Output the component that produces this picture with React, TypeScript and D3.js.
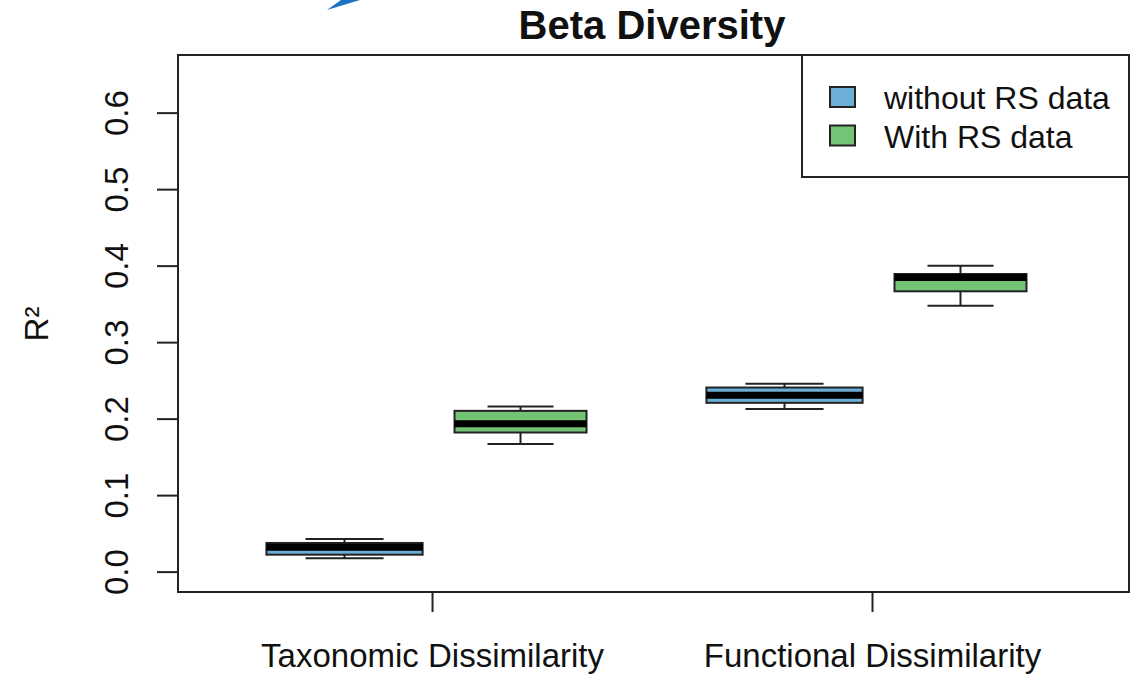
import React, { useEffect, useRef } from "react";
import * as d3 from "d3";

// boxplot stats, one entry per box:
// Taxonomic/without, Taxonomic/with, Functional/without, Functional/with
const groups = ["Taxonomic Dissimilarity", "Functional Dissimilarity"];
const seriesNames = ["without RS data", "With RS data"];
const seriesColors = ["#6baed6", "#74c476"];
const lowWhisker = [0.018, 0.1674, 0.2131, 0.3483];
const lowerQuartile = [0.0228, 0.1825, 0.2213, 0.3671];
const medians = [0.0326, 0.194, 0.2311, 0.3851];
const upperQuartile = [0.0381, 0.2108, 0.2413, 0.3897];
const highWhisker = [0.0433, 0.2164, 0.2461, 0.4005];
const yTicks = [0, 0.1, 0.2, 0.3, 0.4, 0.5, 0.6];

const W = 1140;
const H = 675;
const FONT = "'Liberation Sans', Arial, sans-serif";

const App = () => {
  const ref = useRef<SVGSVGElement | null>(null);

  useEffect(() => {
    drawChart();
  }, []);

  const drawChart = () => {
    const svg = d3.select(ref.current);
    svg.selectAll("*").remove();

    const left = 178, right = 1129, top = 55, bottom = 592;

    // R style: ylim c(0, 0.65) stretched by 4% each side
    const y = d3.scaleLinear().domain([-0.026, 0.676]).range([bottom, top]);
    const x = d3.scaleLinear().domain([0.243, 4.566]).range([left, right]);

    const groupCenter = (g: number) => 1.4 + 2 * g;
    const boxes = medians.map((m, i) => {
      const g = Math.floor(i / 2);
      const s = i % 2;
      return {
        s,
        pos: groupCenter(g) + (s === 0 ? -0.4 : 0.4),
        width: s === 0 ? 0.71 : 0.6,
        lo: lowWhisker[i],
        q1: lowerQuartile[i],
        med: m,
        q3: upperQuartile[i],
        hi: highWhisker[i],
      };
    });

    svg.append("rect").attr("width", W).attr("height", H).attr("fill", "#fff");

    // little blue arrow tip cut off at the top of the screenshot
    svg.append("path")
      .attr("d", "M327,10 L341,0 L360,0 Z")
      .attr("fill", "#1b73c3");

    const dark = "#222";

    const g = svg.append("g");

    boxes.forEach((b) => {
      const x0 = x(b.pos - b.width / 2);
      const x1 = x(b.pos + b.width / 2);
      const cx = x(b.pos);
      const half = (x1 - x0) / 4;

      // whiskers + staples
      g.append("line").attr("x1", cx).attr("x2", cx).attr("y1", y(b.hi)).attr("y2", y(b.q3))
        .attr("stroke", dark).attr("stroke-width", 2);
      g.append("line").attr("x1", cx).attr("x2", cx).attr("y1", y(b.q1)).attr("y2", y(b.lo))
        .attr("stroke", dark).attr("stroke-width", 2);
      g.append("line").attr("x1", cx - half).attr("x2", cx + half).attr("y1", y(b.hi)).attr("y2", y(b.hi))
        .attr("stroke", dark).attr("stroke-width", 2);
      g.append("line").attr("x1", cx - half).attr("x2", cx + half).attr("y1", y(b.lo)).attr("y2", y(b.lo))
        .attr("stroke", dark).attr("stroke-width", 2);

      g.append("rect")
        .attr("x", x0).attr("y", y(b.q3))
        .attr("width", x1 - x0).attr("height", y(b.q1) - y(b.q3))
        .attr("fill", seriesColors[b.s])
        .attr("stroke", dark).attr("stroke-width", 2);

      g.append("line").attr("x1", x0).attr("x2", x1).attr("y1", y(b.med)).attr("y2", y(b.med))
        .attr("stroke", "#000").attr("stroke-width", 7);
    });

    // frame
    svg.append("rect")
      .attr("x", left).attr("y", top)
      .attr("width", right - left).attr("height", bottom - top)
      .attr("fill", "none").attr("stroke", dark).attr("stroke-width", 2);

    // y axis
    yTicks.forEach((t) => {
      svg.append("line").attr("x1", left - 21).attr("x2", left).attr("y1", y(t)).attr("y2", y(t))
        .attr("stroke", dark).attr("stroke-width", 2);
      svg.append("text")
        .attr("transform", `translate(128,${y(t)}) rotate(-90)`)
        .attr("text-anchor", "middle")
        .attr("font-family", FONT).attr("font-size", 33).attr("fill", "#111")
        .text(t.toFixed(1));
    });

    // x axis
    groups.forEach((name, i) => {
      const px = x(groupCenter(i));
      svg.append("line").attr("x1", px).attr("x2", px).attr("y1", bottom).attr("y2", bottom + 20)
        .attr("stroke", dark).attr("stroke-width", 2);
      svg.append("text")
        .attr("x", px).attr("y", 667)
        .attr("text-anchor", "middle")
        .attr("font-family", FONT).attr("font-size", 33).attr("fill", "#111")
        .text(name);
    });

    svg.append("text")
      .attr("transform", `translate(48,324) rotate(-90)`)
      .attr("text-anchor", "middle")
      .attr("font-family", FONT).attr("font-size", 33).attr("fill", "#111")
      .text("R²");

    svg.append("text")
      .attr("x", 652).attr("y", 39)
      .attr("text-anchor", "middle")
      .attr("font-family", FONT).attr("font-size", 40).attr("font-weight", "bold").attr("fill", "#111")
      .text("Beta Diversity");

    // legend
    const lg = svg.append("g");
    lg.append("rect")
      .attr("x", 802).attr("y", top)
      .attr("width", right - 802).attr("height", 177 - top)
      .attr("fill", "#fff").attr("stroke", dark).attr("stroke-width", 2);
    seriesNames.forEach((name, i) => {
      const yy = 87 + i * 38.5;
      lg.append("rect")
        .attr("x", 830).attr("y", yy).attr("width", 25).attr("height", 20)
        .attr("fill", seriesColors[i]).attr("stroke", dark).attr("stroke-width", 2);
      lg.append("text")
        .attr("x", 884).attr("y", yy + 22)
        .attr("font-family", FONT).attr("font-size", 32).attr("fill", "#111")
        .text(name);
    });
  };

  return (
    <svg
      ref={ref}
      width={W}
      height={H}
      style={{ position: "absolute", left: 0, top: 0 }}
    />
  );
};

export default App;
